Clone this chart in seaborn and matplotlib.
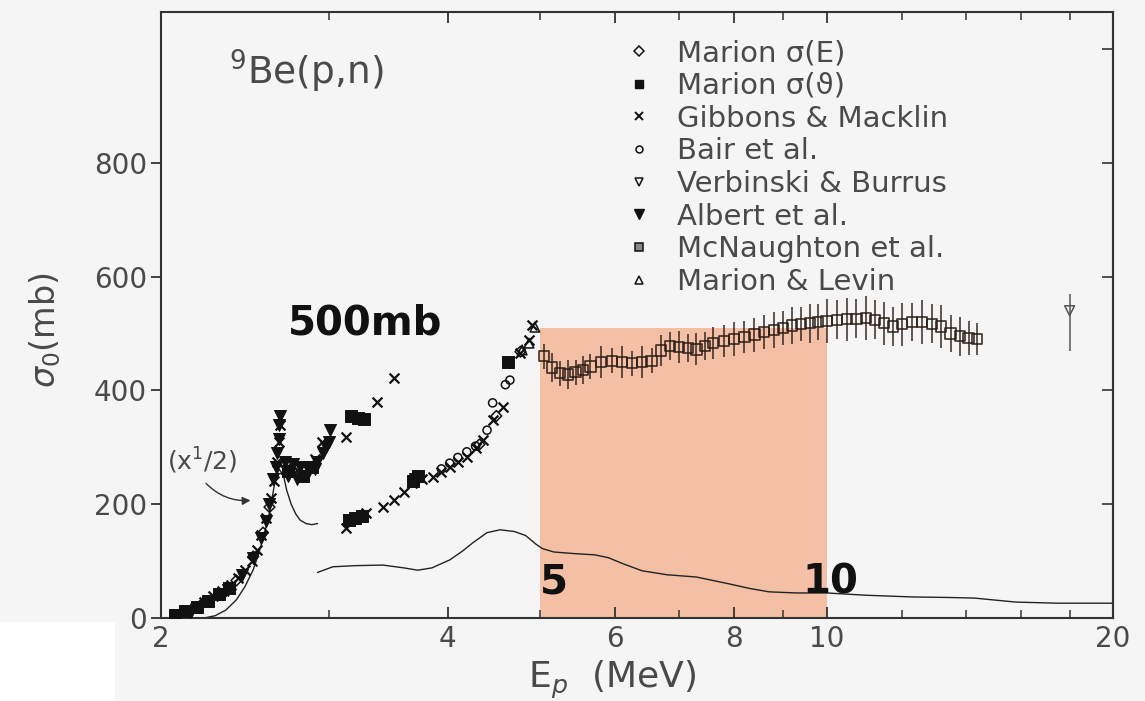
import numpy as np
import pandas as pd
import matplotlib
matplotlib.use("Agg")
import matplotlib.pyplot as plt
import seaborn as sns
from matplotlib.lines import Line2D
from matplotlib.patches import Rectangle

# ---------------- data ----------------
# Marion sigma(E)  (open diamonds)
me_E = [2.10, 2.20, 2.30, 2.40, 2.50, 2.56, 2.60, 4.32, 4.50, 4.77]
me_s = [8, 22, 42, 66, 108, 150, 195, 305, 355, 468]
# Marion sigma(theta)  (filled rectangles)
mt_E = [2.07, 2.12, 2.18, 2.24, 2.30, 2.36, 2.72, 2.82, 2.88,
        3.17, 3.22, 3.27, 3.15, 3.20, 3.25, 3.68, 3.72, 4.63]
mt_s = [5, 12, 20, 30, 42, 52, 258, 250, 265,
        355, 352, 350, 172, 176, 180, 240, 250, 450]
# Gibbons & Macklin  (crosses)
gm_E = [2.07, 2.12, 2.17, 2.22, 2.27, 2.32, 2.37, 2.41, 2.45, 2.49, 2.52, 2.55,
        2.58, 2.61, 2.63, 2.65, 2.66, 2.67, 2.70, 2.74, 2.78, 2.82, 2.86, 2.90,
        2.95, 3.13, 3.37, 3.51, 3.13, 3.28, 3.42, 3.51, 3.60, 3.67, 3.76, 3.86,
        3.94, 4.02, 4.10, 4.19, 4.28, 4.36, 4.46, 4.57, 4.76, 4.87, 4.91]
gm_s = [5, 12, 18, 28, 38, 48, 58, 70, 85, 100, 120, 145,
        175, 210, 240, 275, 310, 340, 262, 256, 260, 255, 265, 280,
        310, 318, 380, 422, 158, 184, 195, 207, 222, 237, 245, 248,
        256, 265, 274, 283, 298, 313, 348, 371, 466, 489, 515]
# Bair et al.  (open circles)
ba_E = [3.94, 4.02, 4.10, 4.19, 4.28, 4.40, 4.46, 4.60, 4.65]
ba_s = [262, 272, 282, 292, 302, 330, 378, 410, 418]
# Verbinski & Burrus  (open triangle down with error bar)
vb_E = [18.0]
vb_s = [540]
vb_lo = [70]
vb_hi = [30]
# Albert et al.  (filled triangles down)
al_E = [2.15, 2.25, 2.35, 2.43, 2.50, 2.55, 2.58, 2.60,
        2.62, 2.64, 2.65, 2.66, 2.66, 2.67, 2.70, 2.72, 2.75, 2.78, 2.80,
        2.84, 2.86, 2.90, 2.92, 2.96, 2.98, 3.00, 3.01, 3.70]
al_s = [10, 30, 50, 75, 105, 140, 170, 200,
        245, 265, 290, 315, 340, 355, 275, 250, 270, 245, 265,
        250, 258, 262, 275, 290, 300, 310, 330, 245]
# McNaughton et al.  (open squares with error bars)
mn_E = [5.05, 5.15, 5.25, 5.35, 5.45, 5.55, 5.65, 5.80, 5.95, 6.10, 6.25, 6.40,
        6.55, 6.70, 6.85, 7.00, 7.15, 7.30, 7.45, 7.60, 7.80, 8.00, 8.20, 8.40,
        8.60, 8.80, 9.00, 9.20, 9.40, 9.60, 9.80, 10.0, 10.25, 10.5, 10.75, 11.0,
        11.25, 11.5, 11.75, 12.0, 12.3, 12.6, 12.9, 13.2, 13.5, 13.8, 14.1, 14.4]
mn_s = [460, 440, 430, 428, 432, 436, 442, 450, 452, 450, 448, 450,
        452, 470, 478, 476, 474, 472, 478, 483, 487, 490, 494, 498,
        502, 506, 510, 514, 516, 518, 520, 522, 524, 525, 526, 527,
        524, 518, 512, 516, 520, 520, 517, 512, 500, 495, 492, 490]
mn_err = [22, 25, 22, 25, 22, 25, 22, 28, 22, 28, 22, 28,
          22, 28, 25, 28, 25, 28, 25, 28, 28, 30, 28, 30,
          30, 32, 30, 32, 30, 34, 32, 38, 34, 38, 34, 38,
          34, 38, 34, 38, 34, 38, 34, 38, 32, 34, 30, 28]
# Marion & Levin  (open triangles up)
ml_E = [4.79, 4.87, 4.94]
ml_s = [471, 483, 511]

# thin curves
c1_E = [2.22, 2.28, 2.34, 2.40, 2.45, 2.50, 2.54, 2.57, 2.60, 2.63, 2.66, 2.69,
        2.71, 2.74, 2.77, 2.80, 2.84, 2.88, 2.92]
c1_s = [0, 4, 14, 32, 55, 85, 120, 150, 185, 232, 262, 250,
        225, 200, 183, 172, 166, 164, 166]
c2_E = [2.92, 3.03, 3.20, 3.42, 3.60, 3.72, 3.85, 4.02, 4.15, 4.25, 4.40, 4.54,
        4.70, 4.83, 4.95, 5.03, 5.17, 5.45, 5.71, 5.90, 6.10, 6.40, 6.80, 7.30,
        7.90, 8.30, 8.70, 9.30, 10.0, 11.0, 12.3, 13.5, 14.3, 15.8, 17.5, 20.0]
c2_s = [80, 90, 92, 93, 88, 84, 88, 102, 118, 132, 150, 155,
        152, 145, 130, 122, 116, 113, 111, 106, 96, 83, 76, 72,
        60, 52, 46, 44, 44, 40, 37, 36, 35, 28, 26, 26]

# highlighted band
band_E = [5.0, 10.0]
band_top = 510

legend_labels = ["Marion \u03c3(E)", "Marion \u03c3(\u03d1)", "Gibbons & Macklin",
                 "Bair et al.", "Verbinski & Burrus", "Albert et al.",
                 "McNaughton et al.", "Marion & Levin"]

x_major = [2, 4, 6, 8, 10, 20]
x_minor = [3, 5, 7, 9, 12, 14, 16, 18]
y_major = [0, 200, 400, 600, 800]

# ---------------- figure ----------------
sns.set_theme(style="ticks")
plt.rcParams['font.family'] = ['DejaVu Sans']
plt.rcParams['mathtext.fontset'] = 'dejavusans'

BG = '#f4f5f4'
TXT = '#4a4a4a'
BOLD = dict(fontweight='bold', color='#111111', family=['DejaVu Sans'])
fig = plt.figure(figsize=(11.45, 7.01), dpi=100, facecolor=BG)
fig.add_artist(Rectangle((0, 0), 0.100, 0.112, transform=fig.transFigure,
                         facecolor='white', edgecolor='none', zorder=-5))
ax = fig.add_axes([0.1406, 0.1184, 0.8316, 0.8646])
ax.set_facecolor(BG)
ax.set_xscale('log')

# band
ax.fill_between(band_E, 0, band_top, color='#f3c0a5', linewidth=0, zorder=0.5)

# curves
sns.lineplot(x=c1_E, y=c1_s, color='#222222', linewidth=1.0, ax=ax, sort=False,
             estimator=None, zorder=2)
sns.lineplot(x=c2_E, y=c2_s, color='#222222', linewidth=1.0, ax=ax, sort=False,
             estimator=None, zorder=2)

K = '#111111'
# error bars
ax.errorbar(mn_E, mn_s, yerr=mn_err, fmt='none', ecolor='#2a1a14', elinewidth=1.2,
            alpha=0.85, zorder=3)
ax.errorbar(vb_E, vb_s, yerr=[vb_lo, vb_hi], fmt='none', ecolor='#555555',
            elinewidth=1.1, zorder=3)

# markers
sns.scatterplot(x=mn_E, y=mn_s, marker='s', s=55, facecolor='none', edgecolor='#2a1a14',
                linewidth=1.2, alpha=0.9, ax=ax, zorder=4)
sns.scatterplot(x=me_E, y=me_s, marker='D', s=30, facecolor='none', edgecolor=K,
                linewidth=1.1, ax=ax, zorder=4)
sns.scatterplot(x=mt_E, y=mt_s, marker='s', s=75, color=K, edgecolor=K, ax=ax, zorder=4)
sns.scatterplot(x=gm_E, y=gm_s, marker='x', s=50, color=K, linewidth=1.6, ax=ax, zorder=4)
sns.scatterplot(x=ba_E, y=ba_s, marker='o', s=34, facecolor='none', edgecolor=K,
                linewidth=1.1, ax=ax, zorder=4)
sns.scatterplot(x=vb_E, y=vb_s, marker='v', s=50, facecolor='none', edgecolor='#555555',
                linewidth=1.1, ax=ax, zorder=4)
sns.scatterplot(x=al_E, y=al_s, marker='v', s=75, color=K, edgecolor=K, ax=ax, zorder=4)
sns.scatterplot(x=ml_E, y=ml_s, marker='^', s=48, facecolor='none', edgecolor=K,
                linewidth=1.1, ax=ax, zorder=4)

# axes limits & ticks
ax.set_xlim(2, 20)
ax.set_ylim(0, 1065)
ax.set_xticks(x_major)
ax.set_xticklabels([str(v) for v in x_major])
ax.set_xticks(x_minor, minor=True)
ax.set_xticklabels([], minor=True)
ax.set_yticks(y_major)
ax.set_yticklabels([str(v) for v in y_major])
ax.tick_params(axis='x', which='both', direction='in', top=True, bottom=True,
               labelsize=20, labelcolor=TXT, color='#333333', pad=5)
ax.tick_params(axis='x', which='major', length=8, width=1.3)
ax.tick_params(axis='x', which='minor', length=6, width=1.1)
ax.tick_params(axis='y', which='both', direction='out', left=True, right=False,
               labelsize=20, labelcolor=TXT, color='#333333', length=7, width=1.3, pad=3)
sec = ax.secondary_yaxis('right')
sec.set_yticks([200, 400, 600, 800, 1000])
sec.tick_params(direction='in', length=8, width=1.2, labelright=False, color='#333333')
sec.spines['right'].set_color('#333333')
sec.spines['right'].set_linewidth(1.5)
for sp in ax.spines.values():
    sp.set_color('#333333')
    sp.set_linewidth(1.5)

ax.set_xlabel(r'E$_p$  (MeV)', fontsize=26, color=TXT)
ax.xaxis.set_label_coords(0.474, -0.068)
ax.set_ylabel(r'$\sigma_0$(mb)', fontsize=24, color=TXT)
ax.yaxis.set_label_coords(-0.103, 0.475)

# annotations
ax.text(2.36, 960, r'$^9$Be(p,n)', fontsize=27, color=TXT, va='center')
ax.text(2.72, 518, '500mb', fontsize=29, va='center', **BOLD)
ax.text(5.17, 63, '5', fontsize=29, va='center', ha='center', **BOLD)
ax.text(10.1, 63, '10', fontsize=29, va='center', ha='center', **BOLD)
ax.text(2.03, 276, r'(x$^1$/2)', fontsize=18, color=TXT, va='center')
ax.annotate('', xy=(2.50, 207), xytext=(2.22, 240),
            arrowprops=dict(arrowstyle='-|>', connectionstyle='arc3,rad=0.25',
                            color='#333333', lw=1.0, mutation_scale=12))

# legend
handles = [
    Line2D([], [], ls='none', marker='D', ms=5, mfc='none', mec=K, mew=1.1),
    Line2D([], [], ls='none', marker='s', ms=6, mfc=K, mec=K),
    Line2D([], [], ls='none', marker='x', ms=6, mec=K, mew=1.4),
    Line2D([], [], ls='none', marker='o', ms=5, mfc='none', mec=K, mew=1.1),
    Line2D([], [], ls='none', marker='v', ms=6, mfc='none', mec=K, mew=1.1),
    Line2D([], [], ls='none', marker='v', ms=7, mfc=K, mec=K),
    Line2D([], [], ls='none', marker='s', ms=6, mfc='#888888', mec=K, mew=1.1),
    Line2D([], [], ls='none', marker='^', ms=6, mfc='none', mec=K, mew=1.1),
]
leg = ax.legend(handles, legend_labels, loc='upper left', bbox_to_anchor=(0.49, 0.955),
                frameon=False, fontsize=21, labelspacing=0.16, handlelength=0.8,
                handletextpad=0.9, borderaxespad=0, borderpad=0, labelcolor=TXT)

fig.savefig('out.png', dpi=100, facecolor=BG)
